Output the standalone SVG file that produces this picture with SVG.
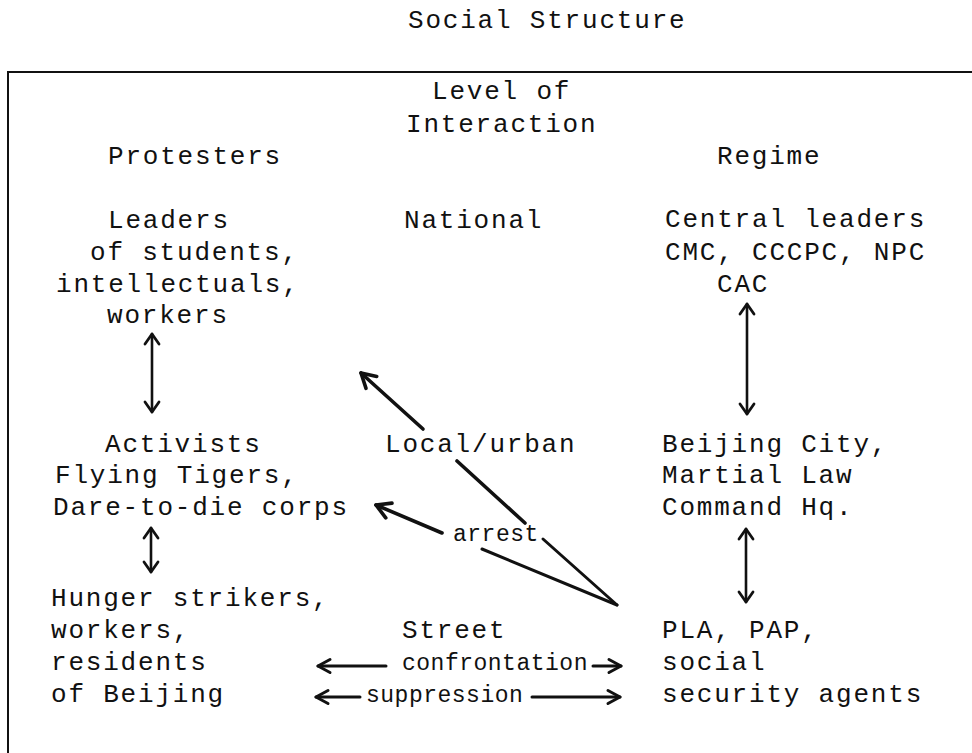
<svg xmlns="http://www.w3.org/2000/svg" width="972" height="753" viewBox="0 0 972 753">
<style>
.t{font-family:"Liberation Mono","Courier New",monospace;font-size:26px;letter-spacing:1.8px;fill:#111}
.s{font-family:"Liberation Mono","Courier New",monospace;font-size:23px;letter-spacing:0.5px;fill:#111}
.c{stroke:#111;stroke-width:3;fill:none;stroke-linecap:round}
.d{stroke:#111;stroke-width:3.6;fill:none;stroke-linecap:round}
.v{stroke:#111;stroke-width:2.6;fill:none;stroke-linecap:round}
</style>
<defs>
<marker id="ah" markerUnits="userSpaceOnUse" markerWidth="20" markerHeight="20" refX="0" refY="0" orient="auto-start-reverse" overflow="visible">
<path d="M-12,-6.5 L0,0 L-12,6.5" fill="none" stroke="#111" stroke-width="3" stroke-linecap="round" stroke-linejoin="round"/>
</marker>
<marker id="ad" markerUnits="userSpaceOnUse" markerWidth="24" markerHeight="24" refX="0" refY="0" orient="auto-start-reverse" overflow="visible">
<path d="M-14,-8 L0,0 L-14,8" fill="none" stroke="#111" stroke-width="3.6" stroke-linecap="round" stroke-linejoin="round"/>
</marker>
<marker id="av" markerUnits="userSpaceOnUse" markerWidth="20" markerHeight="20" refX="0" refY="0" orient="auto-start-reverse" overflow="visible">
<path d="M-10,-7 L0,0 L-10,7" fill="none" stroke="#111" stroke-width="2.8" stroke-linecap="round" stroke-linejoin="round"/>
</marker>
</defs>
<rect width="972" height="753" fill="#fff"/>
<text class="t" x="408" y="28">Social Structure</text>
<g id="frame"><path d="M8,753 L8,72 L972,72" fill="none" stroke="#111" stroke-width="2"/></g>
<g id="headers">
<text class="t" x="432" y="99">Level of</text>
<text class="t" x="406" y="132">Interaction</text>
<text class="t" x="108" y="164">Protesters</text>
<text class="t" x="717" y="164">Regime</text>
</g>
<g id="levels">
<text class="t" x="404" y="228">National</text>
<text class="t" x="385" y="452">Local/urban</text>
<text class="t" x="402" y="638">Street</text>
</g>
<g id="protest-leaders">
<text class="t" x="108" y="228">Leaders</text>
<text class="t" x="90" y="260">of students,</text>
<text class="t" x="56" y="292">intellectuals,</text>
<text class="t" x="107" y="323">workers</text>
</g>
<g id="activists">
<text class="t" x="105" y="452">Activists</text>
<text class="t" x="55" y="483">Flying Tigers,</text>
<text class="t" x="53" y="515">Dare-to-die corps</text>
</g>
<g id="hunger">
<text class="t" x="51" y="606">Hunger strikers,</text>
<text class="t" x="51" y="638">workers,</text>
<text class="t" x="51" y="670">residents</text>
<text class="t" x="51" y="702">of Beijing</text>
</g>
<g id="central">
<text class="t" x="665" y="227">Central leaders</text>
<text class="t" x="665" y="260">CMC, CCCPC, NPC</text>
<text class="t" x="717" y="292">CAC</text>
</g>
<g id="beijing">
<text class="t" x="662" y="452">Beijing City,</text>
<text class="t" x="662" y="483">Martial Law</text>
<text class="t" x="662" y="515">Command Hq.</text>
</g>
<g id="pla">
<text class="t" x="662" y="638">PLA, PAP,</text>
<text class="t" x="662" y="670">social</text>
<text class="t" x="662" y="702">security agents</text>
</g>
<g id="connectors">
<line class="v" x1="152" y1="334" x2="152" y2="412" marker-start="url(#av)" marker-end="url(#av)"/>
<line class="v" x1="151" y1="528" x2="151" y2="572" marker-start="url(#av)" marker-end="url(#av)"/>
<line class="v" x1="747" y1="304" x2="747" y2="414" marker-start="url(#av)" marker-end="url(#av)"/>
<line class="v" x1="746" y1="529" x2="746" y2="602" marker-start="url(#av)" marker-end="url(#av)"/>
<line class="d" x1="423" y1="429" x2="361" y2="373" marker-end="url(#ad)"/>
<line class="d" x1="457" y1="461" x2="525" y2="523"/>
<line class="c" x1="543" y1="539" x2="617" y2="605"/>
<line class="d" x1="442" y1="533" x2="376" y2="505" marker-end="url(#ad)"/>
<line class="c" x1="482" y1="549" x2="617" y2="605"/>
<line class="c" x1="386" y1="666" x2="318" y2="666" marker-end="url(#ah)"/>
<line class="c" x1="593" y1="666" x2="621" y2="666" marker-end="url(#ah)"/>
<line class="c" x1="360" y1="697" x2="316" y2="697" marker-end="url(#ah)"/>
<line class="c" x1="532" y1="697" x2="620" y2="697" marker-end="url(#ah)"/>
<text class="s" x="453" y="541">arrest</text>
<text class="s" x="402" y="670">confrontation</text>
<text class="s" x="366" y="702">suppression</text>
</g>
</svg>
